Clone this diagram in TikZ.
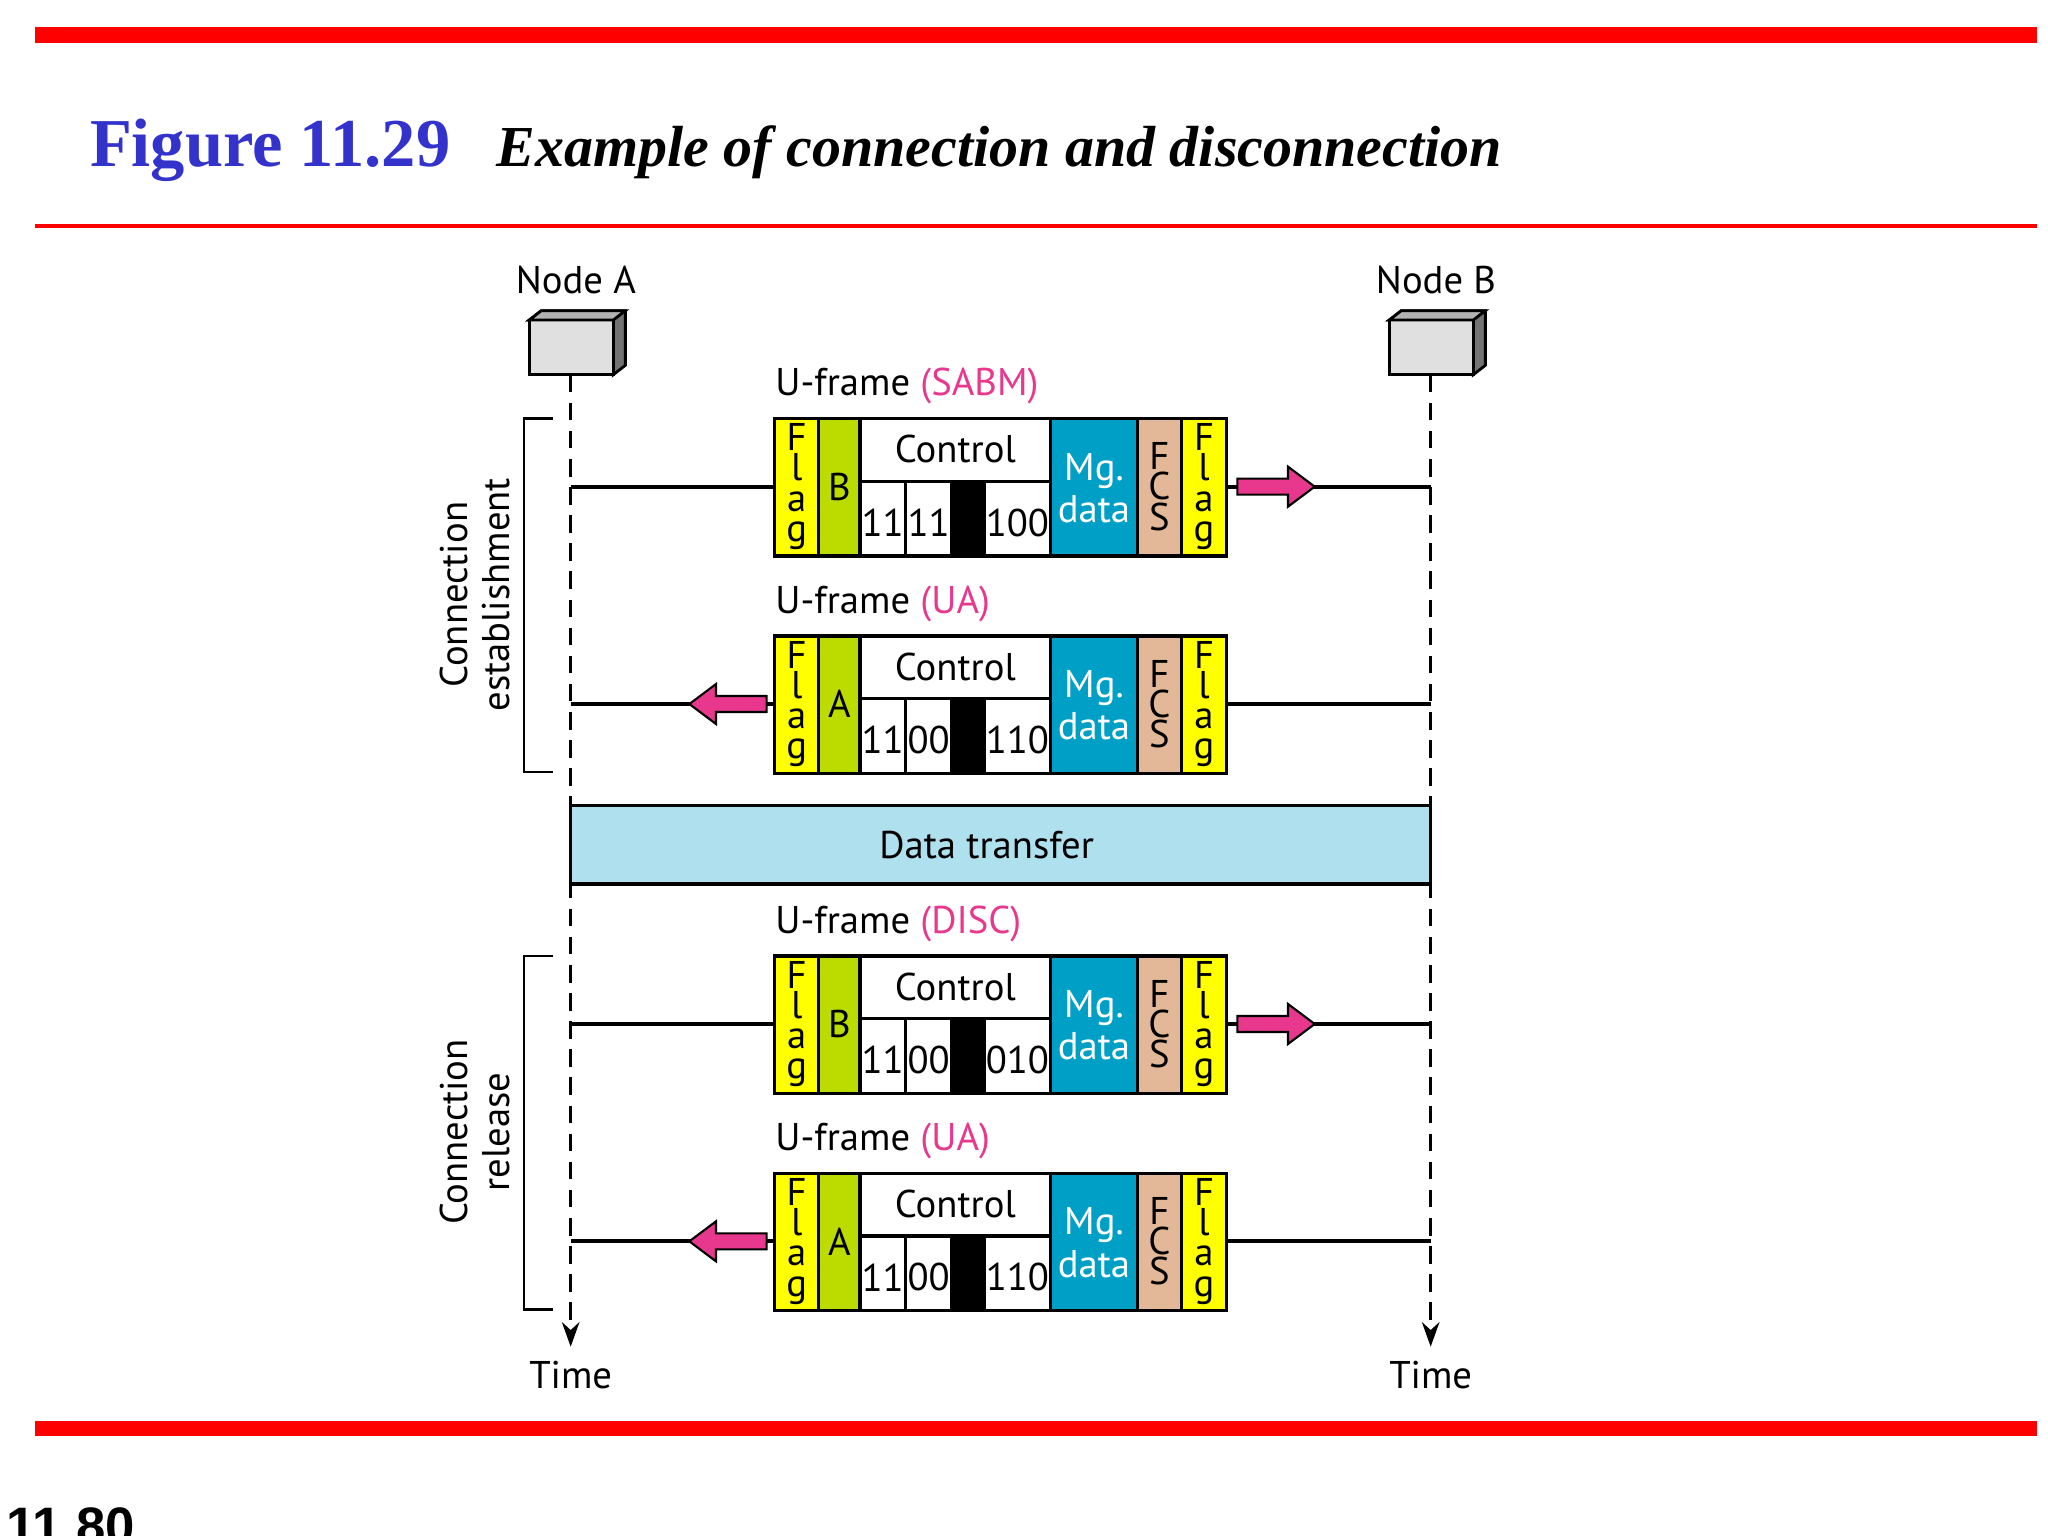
\documentclass[tikz,border=0pt]{standalone}
\usepackage{fontspec}
\setmainfont{Liberation Serif}
\newfontfamily\diag{PT Sans}
\newfontfamily\pagefont{Liberation Sans}
\usetikzlibrary{positioning,arrows.meta}
\definecolor{flagyel}{HTML}{FFFF00}
\definecolor{addrgrn}{HTML}{BCDC00}
\definecolor{mgteal}{HTML}{009FC6}
\definecolor{fcstan}{HTML}{E2B898}
\definecolor{arrpink}{HTML}{E8388E}
\definecolor{xferblue}{HTML}{AEE0EE}
\definecolor{titleblue}{HTML}{3333CC}
\tikzset{
  lbl/.style={font=\diag\fontsize{11}{12}\selectfont, inner sep=0pt},
  stk/.style={font=\diag\fontsize{11}{8.6}\selectfont, inner sep=0pt, align=center},
  fld/.style={draw=black, line width=0.9pt},
  msg/.style={line width=1.1pt},
  life/.style={dashed, line width=0.7pt, dash pattern=on 5pt off 3pt},
  parr/.style={fill=arrpink, draw=black, line width=0.6pt},
}
% one U-frame: name, top y, address, three control bit groups, label, direction (1 right, -1 left)
\newcommand\uframe[8]{%
  \coordinate (#1la) at (428,#2+51);
  \coordinate (#1lb) at (1073,#2+51);
  \node[lbl, anchor=base west] (#1t) at (581,#2-17) {U-frame \textcolor{arrpink}{(#7)}};
  \draw[fld, fill=flagyel] (581,#2) rectangle (614,#2+103);
  \draw[fld, fill=addrgrn] (614,#2) rectangle (645,#2+103);
  \draw[fld, fill=white] (645,#2) rectangle (788,#2+47);
  \draw[fld, fill=white] (645,#2+47) rectangle (679,#2+103);
  \draw[fld, fill=white] (679,#2+47) rectangle (714,#2+103);
  \draw[fld, fill=black] (714,#2+47) rectangle (738,#2+103);
  \draw[fld, fill=white] (738,#2+47) rectangle (788,#2+103);
  \draw[fld, fill=mgteal] (788,#2) rectangle (853,#2+103);
  \draw[fld, fill=fcstan] (853,#2) rectangle (886,#2+103);
  \draw[fld, fill=flagyel] (886,#2) rectangle (920,#2+103);
  \node[stk] (#1f1) at (597.5,#2+51) {F\\l\\a\\g};
  \node[lbl] (#1ad) at (629.5,#2+51) {#3};
  \node[lbl] (#1ct) at (716.5,#2+23) {Control};
  \node[lbl] (#1b1) at (662,#2+78) {#4};
  \node[lbl] (#1b2) at (696.5,#2+78) {#5};
  \node[lbl] (#1b3) at (763,#2+78) {#6};
  \node[lbl, text=white, align=center] (#1mg) at (820.5,#2+52) {Mg.\\data};
  \node[stk] (#1fc) at (869.5,#2+51) {F\\C\\S};
  \node[stk] (#1f2) at (903,#2+51) {F\\l\\a\\g};
  \coordinate (#1fl) at (581,#2+51);
  \coordinate (#1fr) at (920,#2+51);
  \draw[msg] (#1la) -- (#1fl);
  \draw[msg] (#1fr) -- (#1lb);
  \ifnum#8=1
    \draw[parr, shift={(928,#2+51)}] (0,-6) -- (38,-6) -- (38,-15) -- (58,0) -- (38,15) -- (38,6) -- (0,6) -- cycle;
  \else
    \draw[parr, shift={(575,#2+51)}] (0,-6) -- (-38,-6) -- (-38,-15) -- (-58,0) -- (-38,15) -- (-38,6) -- (0,6) -- cycle;
  \fi
}
\begin{document}
\begin{tikzpicture}[x=0.013333cm, y=-0.013333cm]
\useasboundingbox (0,0) rectangle (1536,1152);
% page decoration
\fill[red] (26,20) rectangle (1528,32);
\fill[red] (26,168) rectangle (1528,171);
\fill[red] (26,1066) rectangle (1528,1077);
\node[anchor=base west, inner sep=0pt, text=titleblue, font=\bfseries\fontsize{19.5}{24}\selectfont] (fig) at (67,125) {Figure 11.29};
\node[anchor=base west, inner sep=0pt, font=\bfseries\itshape\fontsize{16.5}{20}\selectfont] (cap) at (372,125) {Example of connection and disconnection};
\node[anchor=base west, inner sep=0pt, font=\pagefont\bfseries\fontsize{15}{18}\selectfont] (pg) at (4,1158) {11.80};
% nodes and time lines
\foreach \n/\x/\t in {A/397/Node A, B/1042/Node B} {
  \draw[fill=black!55, line width=0.8pt] (\x,240) -- (\x+9,233) -- (\x+72,233) -- (\x+72,274) -- (\x+63,281) -- (\x+63,240) -- cycle;
  \draw[fill=black!12, line width=0.8pt] (\x,240) rectangle (\x+63,281);
  \draw[fill=black!30, line width=0.8pt] (\x,240) -- (\x+9,233) -- (\x+72,233) -- (\x+63,240) -- cycle;
  \node[lbl] (lab\n) at (\x+35,210) {\t};
  \coordinate (top\n) at (\x+31,281);
  \coordinate (end\n) at (\x+31,1010);
  \node[lbl] (time\n) at (\x+31,1031) {Time};
}
\draw[life, -{Stealth[length=7pt,width=5pt]}] (topA) -- (endA);
\draw[life, -{Stealth[length=7pt,width=5pt]}] (topB) -- (endB);
% frames
\uframe{sabm}{314}{B}{11}{11}{100}{SABM}{1}
\uframe{ua}{477}{A}{11}{00}{110}{UA}{-1}
\uframe{disc}{717}{B}{11}{00}{010}{DISC}{1}
\uframe{uab}{880}{A}{11}{00}{110}{UA}{-1}
% data transfer
\draw[fill=xferblue, line width=0.9pt] (428,604) rectangle (1073,663);
\node[lbl] (xfer) at (740,634) {Data transfer};
% phases
\draw[line width=0.7pt] (415,314) -- (393,314) -- (393,579) -- (415,579);
\draw[line width=0.7pt] (415,717) -- (393,717) -- (393,982) -- (415,982);
\node[lbl, rotate=90, align=center] (est) at (356,446) {Connection\\establishment};
\node[lbl, rotate=90, align=center] (rel) at (356,849) {Connection\\release};
\end{tikzpicture}
\end{document}
